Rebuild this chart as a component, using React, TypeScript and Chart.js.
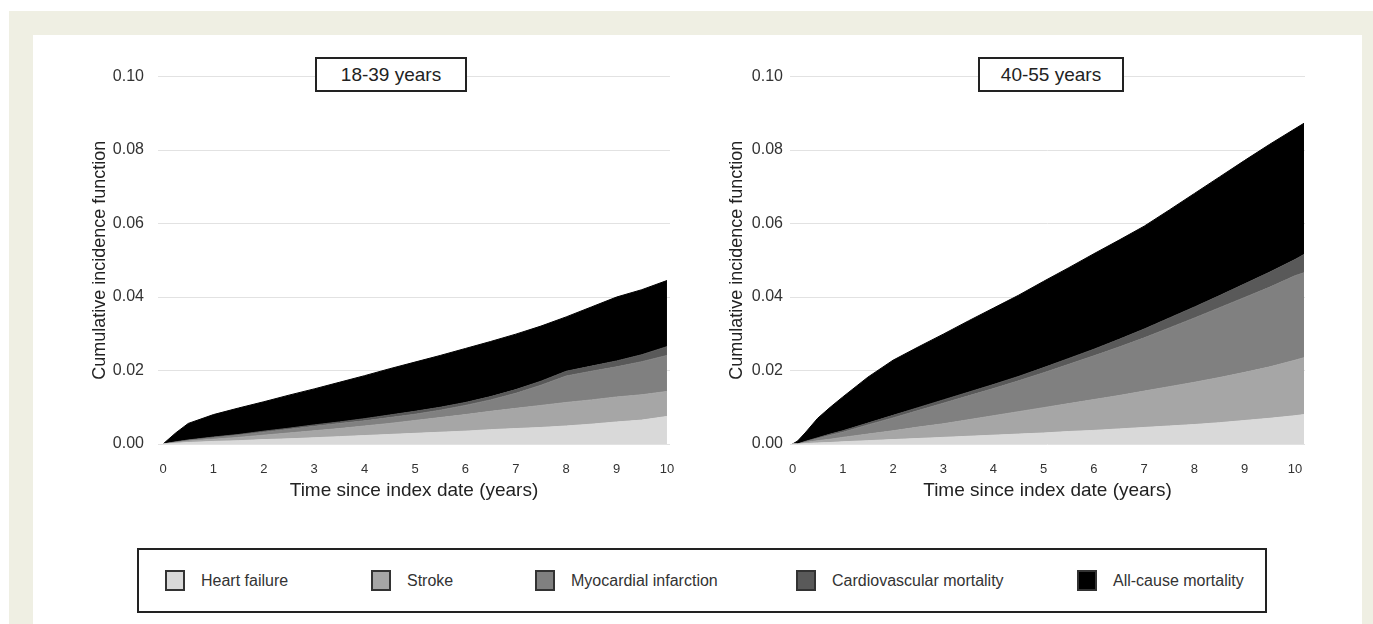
import React, { useEffect, useRef } from "react";
import { Chart, registerables } from "chart.js";

Chart.register(...registerables);

const FONT = "'Liberation Sans', Arial, Helvetica, sans-serif";

const causeLabels = [
  "Heart failure",
  "Stroke",
  "Myocardial infarction",
  "Cardiovascular mortality",
  "All-cause mortality",
];
const causeColors = ["#d9d9d9", "#a6a6a6", "#808080", "#595959", "#000000"];

const yTickValues = [0, 0.02, 0.04, 0.06, 0.08, 0.1];
const xTickValues = [0, 1, 2, 3, 4, 5, 6, 7, 8, 9, 10];

// 18-39 years: upper edge of each stacked band (cumulative incidence)
const timesYoung = [0, 0.25, 0.5, 1, 1.5, 2, 2.5, 3, 3.5, 4, 4.5, 5, 5.5, 6, 6.5, 7, 7.5, 8, 8.5, 9, 9.5, 10];
const heartFailureYoung = [0, 0.0002, 0.0004, 0.0007, 0.0009, 0.0012, 0.0014, 0.0017, 0.002, 0.0023, 0.0026, 0.0029, 0.0032, 0.0035, 0.0039, 0.0042, 0.0045, 0.0049, 0.0054, 0.006, 0.0065, 0.0075];
const strokeYoung = [0, 0.0004, 0.0008, 0.0013, 0.0018, 0.0024, 0.003, 0.0036, 0.0042, 0.0049, 0.0056, 0.0064, 0.0072, 0.008, 0.0089, 0.0097, 0.0105, 0.0113, 0.012, 0.0128, 0.0134, 0.0143];
const miYoung = [0, 0.0005, 0.001, 0.0017, 0.0024, 0.0032, 0.004, 0.0048, 0.0056, 0.0063, 0.0072, 0.0081, 0.0092, 0.0105, 0.012, 0.0138, 0.016, 0.0185, 0.0198, 0.021, 0.0224, 0.0241];
const cvMortalityYoung = [0, 0.0006, 0.0011, 0.0019, 0.0026, 0.0035, 0.0043, 0.0052, 0.006, 0.0069, 0.0079, 0.0089, 0.01, 0.0113, 0.0129, 0.0148, 0.0171, 0.0198, 0.0212, 0.0226, 0.0243, 0.0265];
const allCauseYoung = [0, 0.003, 0.0056, 0.008, 0.0098, 0.0115, 0.0133, 0.015, 0.0168, 0.0186, 0.0205, 0.0223, 0.0241, 0.026, 0.0279, 0.0299, 0.0321, 0.0346, 0.0373, 0.04, 0.042, 0.0445];

// 40-55 years: upper edge of each stacked band (cumulative incidence)
const timesOld = [0, 0.1, 0.25, 0.5, 0.75, 1, 1.5, 2, 2.5, 3, 3.5, 4, 4.5, 5, 5.5, 6, 6.5, 7, 7.5, 8, 8.5, 9, 9.5, 10, 10.18];
const heartFailureOld = [0, 0, 0.0001, 0.0003, 0.0004, 0.0006, 0.0009, 0.0012, 0.0015, 0.0018, 0.0021, 0.0024, 0.0027, 0.003, 0.0034, 0.0037, 0.0041, 0.0045, 0.0049, 0.0053, 0.0058, 0.0064, 0.007, 0.0077, 0.008];
const strokeOld = [0, 0, 0.0004, 0.0009, 0.0013, 0.0018, 0.0027, 0.0036, 0.0046, 0.0055, 0.0066, 0.0077, 0.0088, 0.0099, 0.011, 0.0121, 0.0132, 0.0144, 0.0156, 0.0168, 0.0181, 0.0195, 0.021, 0.0228, 0.0235];
const miOld = [0, 0, 0.0006, 0.0015, 0.0024, 0.0032, 0.0052, 0.0071, 0.0091, 0.0111, 0.0131, 0.0151, 0.0172, 0.0194, 0.0217, 0.024, 0.0264, 0.0289, 0.0316, 0.0343, 0.0371, 0.0399, 0.0427, 0.0458, 0.0466];
const cvMortalityOld = [0, 0, 0.0007, 0.0017, 0.0027, 0.0036, 0.0057, 0.0078, 0.0099, 0.012, 0.0141, 0.0162, 0.0184, 0.0208, 0.0233, 0.0258, 0.0285, 0.0313, 0.0343, 0.0373, 0.0404, 0.0436, 0.0468, 0.0502, 0.0516];
const allCauseOld = [0, 0.0008, 0.003, 0.007, 0.01, 0.0128, 0.0182, 0.0228, 0.0264, 0.0299, 0.0335, 0.037, 0.0405, 0.0443, 0.048, 0.0518, 0.0555, 0.0593, 0.0637, 0.0682, 0.0727, 0.0772, 0.0816, 0.0858, 0.0873];

type PanelProps = {
  left: number;
  top: number;
  width: number;
  height: number;
  times: number[];
  bands: number[][];
  xMin: number;
  xMax: number;
  yAxisWidth: number;
  padRight: number;
  yTitlePad: number;
  yTickPad: number;
};

function Panel(p: PanelProps) {
  const ref = useRef<HTMLCanvasElement>(null);
  useEffect(() => {
    const chart = new Chart(ref.current as HTMLCanvasElement, {
      type: "line",
      data: {
        datasets: p.bands.map((vals, i) => ({
          label: causeLabels[i],
          data: p.times.map((t, j) => ({ x: t, y: vals[j] })),
          backgroundColor: causeColors[i],
          borderColor: causeColors[i],
          borderWidth: 1,
          pointRadius: 0,
          tension: 0,
          fill: i === 0 ? "origin" : "-1",
        })),
      },
      options: {
        responsive: false,
        animation: false,
        events: [],
        layout: { padding: { top: 15, right: p.padRight, left: 0, bottom: 0 } },
        plugins: { legend: { display: false }, tooltip: { enabled: false } },
        scales: {
          x: {
            type: "linear",
            min: p.xMin,
            max: p.xMax,
            afterBuildTicks: (s: any) => {
              s.ticks = xTickValues.map((v) => ({ value: v }));
            },
            afterFit: (s: any) => {
              s.height = 66;
            },
            grid: { display: false },
            border: { display: false },
            ticks: {
              font: { family: FONT, size: 13 },
              color: "#333",
              padding: 10,
              maxRotation: 0,
              autoSkip: false,
            },
            title: {
              display: true,
              text: "Time since index date (years)",
              font: { family: FONT, size: 19 },
              color: "#222",
              padding: { top: 4, bottom: 8 },
            },
          },
          y: {
            type: "linear",
            min: 0,
            max: 0.1,
            afterBuildTicks: (s: any) => {
              s.ticks = yTickValues.map((v) => ({ value: v }));
            },
            afterFit: (s: any) => {
              s.width = p.yAxisWidth;
            },
            grid: { color: "#e2e2e2", drawTicks: false, lineWidth: 1 },
            border: { display: false },
            ticks: {
              font: { family: FONT, size: 16 },
              color: "#333",
              padding: p.yTickPad,
              callback: (v: any) => Number(v).toFixed(2),
            },
            title: {
              display: true,
              text: "Cumulative incidence function",
              font: { family: FONT, size: 18 },
              color: "#222",
              padding: { top: p.yTitlePad, bottom: 0 },
            },
          },
        },
      },
    } as any);
    return () => chart.destroy();
  }, []);
  return (
    <canvas
      ref={ref}
      width={p.width}
      height={p.height}
      style={{ position: "absolute", left: p.left, top: p.top, width: p.width, height: p.height }}
    />
  );
}

const legendX = [165, 371, 535, 796, 1077];

export default function App() {
  const titleBox = (text: string, left: number, width: number) => (
    <div
      style={{
        position: "absolute",
        left,
        top: 57,
        width,
        height: 35,
        boxSizing: "border-box",
        border: "2px solid #222",
        background: "#fff",
        fontFamily: FONT,
        fontSize: 19,
        color: "#222",
        display: "flex",
        alignItems: "center",
        justifyContent: "center",
      }}
    >
      {text}
    </div>
  );
  return (
    <div style={{ position: "fixed", left: 0, top: 0, width: 1373, height: 624, background: "#fff", overflow: "hidden" }}>
      <div style={{ position: "absolute", left: 9, top: 11, width: 1364, height: 613, background: "#efefe3" }} />
      <div style={{ position: "absolute", left: 33, top: 35, width: 1329, height: 589, background: "#fff" }} />
      <Panel
        left={85}
        top={53}
        width={600}
        height={457}
        times={timesYoung}
        bands={[heartFailureYoung, strokeYoung, miYoung, cvMortalityYoung, allCauseYoung]}
        xMin={-0.1}
        xMax={10.06}
        yAxisWidth={73}
        padRight={15}
        yTitlePad={4}
        yTickPad={14}
      />
      <Panel
        left={715}
        top={60}
        width={610}
        height={450}
        times={timesOld}
        bands={[heartFailureOld, strokeOld, miOld, cvMortalityOld, allCauseOld]}
        xMin={-0.05}
        xMax={10.2}
        yAxisWidth={75}
        padRight={20}
        yTitlePad={11}
        yTickPad={7}
      />
      {titleBox("18-39 years", 315, 152)}
      {titleBox("40-55 years", 978, 146)}
      <div
        style={{
          position: "absolute",
          left: 137,
          top: 548,
          width: 1130,
          height: 65,
          boxSizing: "border-box",
          border: "2px solid #222",
          background: "#fff",
        }}
      />
      {causeLabels.map((label, i) => (
        <div
          key={label}
          style={{
            position: "absolute",
            left: legendX[i],
            top: 570,
            height: 21,
            display: "flex",
            alignItems: "center",
            fontFamily: FONT,
            fontSize: 16,
            color: "#333",
            whiteSpace: "nowrap",
          }}
        >
          <span
            style={{
              display: "inline-block",
              width: 20,
              height: 21,
              boxSizing: "border-box",
              border: "2px solid #333",
              background: causeColors[i],
              marginRight: 16,
            }}
          />
          {label}
        </div>
      ))}
    </div>
  );
}
